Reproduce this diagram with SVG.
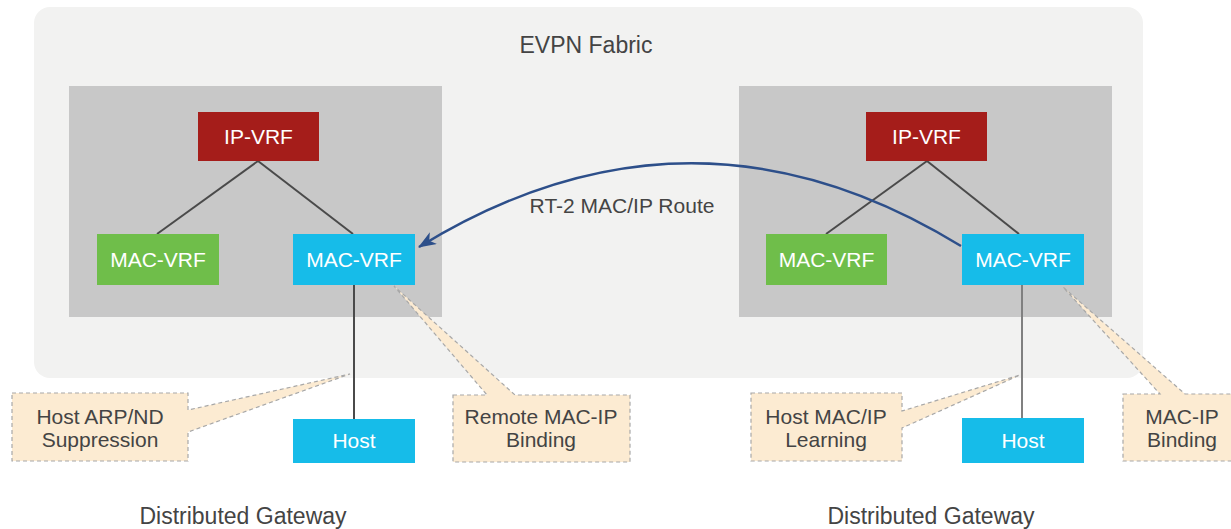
<svg xmlns="http://www.w3.org/2000/svg" width="1231" height="529" viewBox="0 0 1231 529">
<defs>
<style>
.fabric{fill:#f2f2f1}
.panel{fill:#c8c8c8}
.ipvrf{fill:#a51d1a}
.macg{fill:#6fbe4a}
.macb{fill:#16bce9}
.box{font-family:"Liberation Sans",Arial,sans-serif;font-size:21px;fill:#ffffff;text-anchor:middle}
.lbl{font-family:"Liberation Sans",Arial,sans-serif;font-size:21px;fill:#444444;text-anchor:middle}
.big{font-family:"Liberation Sans",Arial,sans-serif;font-size:23px;fill:#444444;text-anchor:middle}
.tree{stroke:#4a4a4a;stroke-width:2;fill:none}
.call{fill:#fcebd2;stroke:#a8a8a8;stroke-width:1.2;stroke-dasharray:4 3}
.route{stroke:#2d4f8a;stroke-width:2.5;fill:none}
</style>
<marker id="arr" markerUnits="userSpaceOnUse" markerWidth="20" markerHeight="16" refX="17" refY="7" orient="auto">
<path d="M0,0 L18,7 L0,14 L5,7 Z" fill="#2d4f8a"/>
</marker>
</defs>

<g id="fabric">
<rect class="fabric" x="34" y="7" width="1109" height="371" rx="16" ry="16"/>
<text class="big" x="586" y="53">EVPN Fabric</text>
</g>

<g id="panel-left"><rect class="panel" x="69" y="86" width="373" height="231"/></g>
<g id="panel-right"><rect class="panel" x="739" y="86" width="373" height="231"/></g>

<g id="callouts">
<g id="callout-arp"><path class="call" d="M12,393 H188 V410 L350,374 L188,432 V461 H12 Z"/>
<text class="lbl" x="100" y="424">Host ARP/ND</text><text class="lbl" x="100" y="447">Suppression</text></g>
<g id="callout-remote"><path class="call" d="M453,395 H487 L394,286 L515,395 H630 V462 H453 Z"/>
<text class="lbl" x="541" y="424">Remote MAC-IP</text><text class="lbl" x="541" y="447">Binding</text></g>
<g id="callout-learn"><path class="call" d="M751,393 H902 V411 L1020,375 L902,428 V461 H751 Z"/>
<text class="lbl" x="826" y="424">Host MAC/IP</text><text class="lbl" x="826" y="447">Learning</text></g>
<g id="callout-bind"><path class="call" d="M1123,394 H1160 L1063,287 L1185,394 H1241 V461 H1123 Z"/>
<text class="lbl" x="1182" y="424">MAC-IP</text><text class="lbl" x="1182" y="447">Binding</text></g>
</g>

<g id="connectors">
<line class="tree" x1="258" y1="161" x2="157" y2="234"/>
<line class="tree" x1="258" y1="161" x2="353" y2="234"/>
<line class="tree" x1="927" y1="161" x2="826" y2="234"/>
<line class="tree" x1="927" y1="161" x2="1019" y2="234"/>
<line class="tree" x1="354" y1="285" x2="354" y2="419"/>
<line class="tree" x1="1022" y1="285" x2="1022" y2="418" style="stroke:#808080"/>
<path class="route" d="M961,246 Q691,80 419,247" marker-end="url(#arr)"/>
<text class="lbl" x="622" y="213">RT-2 MAC/IP Route</text>
</g>

<g id="ipvrf-left"><rect class="ipvrf" x="198" y="112" width="121" height="49"/><text class="box" x="258.5" y="144">IP-VRF</text></g>
<g id="macvrf-left-green"><rect class="macg" x="97" y="234" width="122" height="51"/><text class="box" x="158" y="267">MAC-VRF</text></g>
<g id="macvrf-left-blue"><rect class="macb" x="293" y="234" width="122" height="51"/><text class="box" x="354" y="267">MAC-VRF</text></g>
<g id="host-left"><rect class="macb" x="293" y="419" width="122" height="44"/><text class="box" x="354" y="448">Host</text></g>

<g id="ipvrf-right"><rect class="ipvrf" x="866" y="112" width="121" height="49"/><text class="box" x="926.5" y="144">IP-VRF</text></g>
<g id="macvrf-right-green"><rect class="macg" x="766" y="234" width="121" height="51"/><text class="box" x="826.5" y="267">MAC-VRF</text></g>
<g id="macvrf-right-blue"><rect class="macb" x="962" y="234" width="122" height="51"/><text class="box" x="1023" y="267">MAC-VRF</text></g>
<g id="host-right"><rect class="macb" x="962" y="418" width="122" height="45"/><text class="box" x="1023" y="448">Host</text></g>

<g id="labels">
<text class="big" x="243" y="524">Distributed Gateway</text>
<text class="big" x="931" y="524">Distributed Gateway</text>
</g>
</svg>
